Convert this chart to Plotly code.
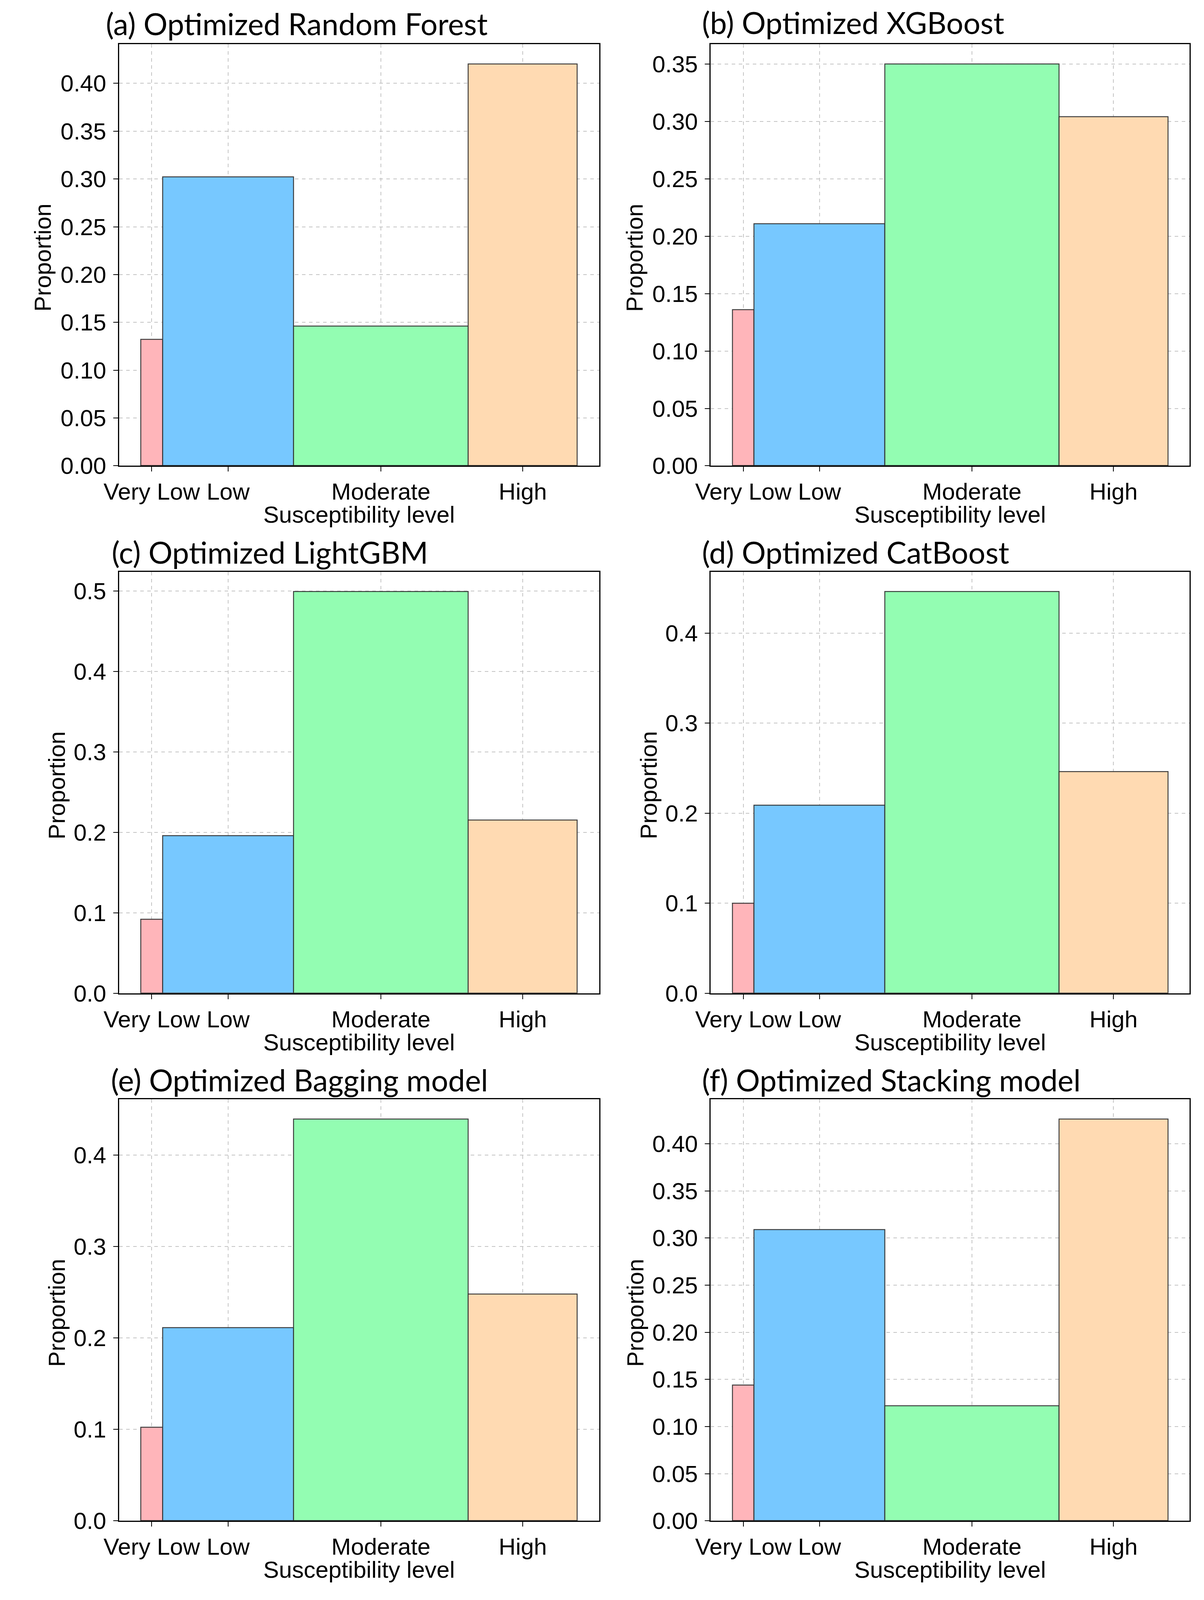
import plotly.graph_objects as go

# ---------------- data ----------------
categories = ["Very Low", "Low", "Moderate", "High"]
bin_edges = [0.0, 0.05, 0.35, 0.75, 1.0]

titles = [
    "(a) Optimized Random Forest",
    "(b) Optimized XGBoost",
    "(c) Optimized LightGBM",
    "(d) Optimized CatBoost",
    "(e) Optimized Bagging model",
    "(f) Optimized Stacking model",
]

rf_values = [0.132, 0.302, 0.146, 0.420]
xgb_values = [0.136, 0.211, 0.350, 0.304]
lgbm_values = [0.092, 0.196, 0.499, 0.215]
cat_values = [0.100, 0.209, 0.446, 0.246]
bag_values = [0.102, 0.211, 0.439, 0.248]
stack_values = [0.144, 0.309, 0.122, 0.426]

y_ticks_a = [0.00, 0.05, 0.10, 0.15, 0.20, 0.25, 0.30, 0.35, 0.40]
y_ticks_b = [0.00, 0.05, 0.10, 0.15, 0.20, 0.25, 0.30, 0.35]
y_ticks_c = [0.0, 0.1, 0.2, 0.3, 0.4, 0.5]
y_ticks_d = [0.0, 0.1, 0.2, 0.3, 0.4]
y_ticks_e = [0.0, 0.1, 0.2, 0.3, 0.4]
y_ticks_f = [0.00, 0.05, 0.10, 0.15, 0.20, 0.25, 0.30, 0.35, 0.40]

panels = [
    (rf_values, y_ticks_a, ".2f"),
    (xgb_values, y_ticks_b, ".2f"),
    (lgbm_values, y_ticks_c, ".1f"),
    (cat_values, y_ticks_d, ".1f"),
    (bag_values, y_ticks_e, ".1f"),
    (stack_values, y_ticks_f, ".2f"),
]

# ---------------- styling / layout ----------------
W, H = 3082, 4599
bar_colors = ["#FFB5BA", "#77C8FF", "#93FDB2", "#FFDAB2"]
edge_color = "rgba(45,45,45,0.9)"
tick_font = dict(family="Liberation Sans, Arial, sans-serif", size=60, color="black")
title_font = dict(family="Lato, Carlito, sans-serif", size=77, color="black")

# axes boxes in reference pixels: (left, right, top, bottom)
boxes = [
    (269, 1514, 128, 1350),
    (1803, 3045, 128, 1350),
    (269, 1514, 1657, 2879),
    (1803, 3045, 1657, 2879),
    (269, 1514, 3186, 4408),
    (1803, 3045, 3186, 4408),
]
title_pos = [(233, 68), (1779, 64), (248, 1600), (1779, 1600), (246, 3129), (1779, 3129)]
ylab_offset = [197, 197, 161, 161, 161, 195]

centers = [(bin_edges[i] + bin_edges[i + 1]) / 2 for i in range(len(categories))]
widths = [bin_edges[i + 1] - bin_edges[i] for i in range(len(categories))]

fig = go.Figure()
annotations = []

for k, ((vals, yt, fmt), box) in enumerate(zip(panels, boxes)):
    L, R, T, B = box
    xa = "xaxis" if k == 0 else f"xaxis{k+1}"
    ya = "yaxis" if k == 0 else f"yaxis{k+1}"
    xr = "x" if k == 0 else f"x{k+1}"
    yr = "y" if k == 0 else f"y{k+1}"

    fig.add_trace(go.Bar(
        x=centers, y=vals, width=widths,
        marker=dict(color=bar_colors, line=dict(color=edge_color, width=2.5)),
        xaxis=xr, yaxis=yr, showlegend=False,
    ))

    span = bin_edges[-1] - bin_edges[0]
    ymax = max(vals) * 1.05
    fig.layout[xa] = dict(
        domain=[L / W, R / W], anchor=yr,
        range=[bin_edges[0] - 0.05 * span, bin_edges[-1] + 0.05 * span],
        tickmode="array", tickvals=centers, ticktext=categories, tickangle=0,
        ticks="outside", ticklen=12, tickwidth=2, tickcolor="black",
        tickfont=tick_font, ticklabelstandoff=0,
        showline=True, linecolor="black", linewidth=2.5, mirror=True,
        showgrid=True, gridcolor="#c4c4c4", gridwidth=1.5, griddash="dash",
        zeroline=False, fixedrange=True,
    )
    fig.layout[ya] = dict(
        domain=[1 - B / H, 1 - T / H], anchor=xr,
        range=[0, ymax],
        tickmode="array", tickvals=yt, ticktext=[format(v, fmt) for v in yt],
        ticks="outside", ticklen=12, tickwidth=2, tickcolor="black",
        tickfont=tick_font, ticklabelstandoff=6,
        showline=True, linecolor="black", linewidth=2.5, mirror=True,
        showgrid=True, gridcolor="#c4c4c4", gridwidth=1.5, griddash="dash",
        zeroline=False, fixedrange=True,
    )

    tx, ty = title_pos[k]
    annotations.append(dict(
        text=titles[k], xref="paper", yref="paper",
        x=tx / W, y=1 - ty / H, xanchor="left", yanchor="middle",
        showarrow=False, font=title_font,
    ))
    annotations.append(dict(
        text="Susceptibility level", xref="paper", yref="paper",
        x=(L + R) / 2 / W, y=1 - (B + 142) / H, xanchor="center", yanchor="middle",
        showarrow=False, font=tick_font,
    ))
    annotations.append(dict(
        text="Proportion", xref="paper", yref="paper", textangle=-90,
        x=(L - ylab_offset[k]) / W, y=1 - ((T + B) / 2 + 8) / H,
        xanchor="center", yanchor="middle",
        showarrow=False, font=tick_font,
    ))

fig.update_layout(
    autosize=True,
    margin=dict(l=0, r=0, t=0, b=0),
    paper_bgcolor="white", plot_bgcolor="white",
    bargap=0, annotations=annotations,
)

post = (
    "document.documentElement.style.margin='0';"
    "document.body.style.margin='0';"
    "document.body.style.overflow='hidden';"
    "var gd=document.getElementById('{plot_id}');"
    "gd.style.width='100vw';gd.style.height='100vh';"
    "Plotly.Plots.resize(gd);"
)

fig.write_html(
    "out.html",
    config={"responsive": True, "displayModeBar": False},
    default_width="100vw",
    default_height="100vh",
    post_script=post,
)
